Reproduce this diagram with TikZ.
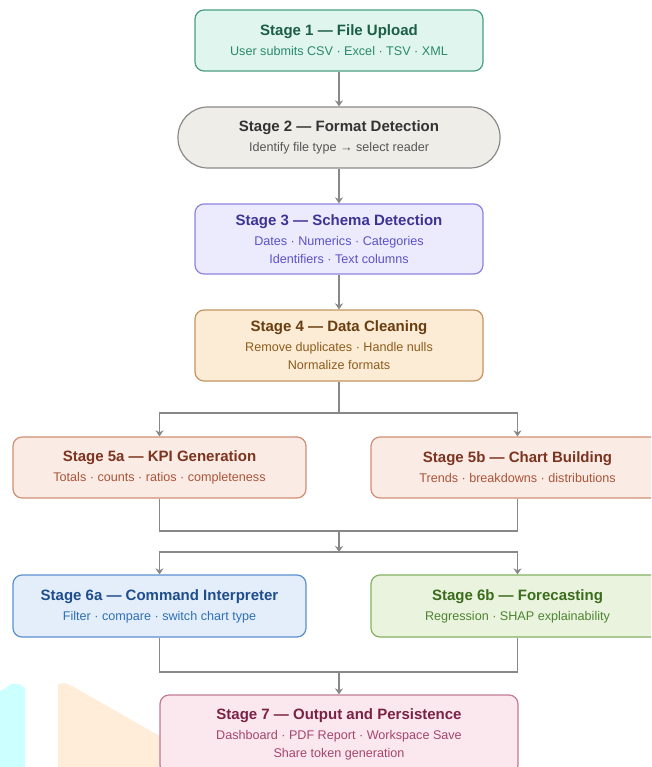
\documentclass[tikz,border=0pt]{standalone}
\usepackage{fontspec}
\setmainfont{Liberation Sans}
\usetikzlibrary{arrows.meta}

% palette
\definecolor{aFill}{HTML}{E0F5EE}\definecolor{aLine}{HTML}{4A9E80}\definecolor{aHead}{HTML}{1B5E46}\definecolor{aText}{HTML}{2A8A68}
\definecolor{bFill}{HTML}{EFEDE8}\definecolor{bLine}{HTML}{8A8A8A}\definecolor{bHead}{HTML}{333333}\definecolor{bText}{HTML}{555555}
\definecolor{cFill}{HTML}{ECEBFD}\definecolor{cLine}{HTML}{8C84E0}\definecolor{cHead}{HTML}{3C3494}\definecolor{cText}{HTML}{5B52C8}
\definecolor{dFill}{HTML}{FCECD6}\definecolor{dLine}{HTML}{C4955F}\definecolor{dHead}{HTML}{6A3D10}\definecolor{dText}{HTML}{8D5C1C}
\definecolor{eFill}{HTML}{FBEBE5}\definecolor{eLine}{HTML}{D28F76}\definecolor{eHead}{HTML}{7B3420}\definecolor{eText}{HTML}{A9553A}
\definecolor{fFill}{HTML}{E4EEFA}\definecolor{fLine}{HTML}{5B8FCF}\definecolor{fHead}{HTML}{1E4D8C}\definecolor{fText}{HTML}{2F6FB5}
\definecolor{gFill}{HTML}{E9F3DE}\definecolor{gLine}{HTML}{83B262}\definecolor{gHead}{HTML}{3B6B1C}\definecolor{gText}{HTML}{4F8432}
\definecolor{hFill}{HTML}{FBE8EF}\definecolor{hLine}{HTML}{C27A93}\definecolor{hHead}{HTML}{7B2243}\definecolor{hText}{HTML}{A4466A}
\definecolor{wire}{HTML}{888888}
\definecolor{tintCyan}{HTML}{CCFFFF}
\definecolor{tintPeach}{HTML}{FFECD9}

\newcommand{\stagehead}[2]{{\fontsize{15}{18}\selectfont\bfseries\color{#1}#2}\\[2pt]}

\tikzset{
  stagebox/.style={draw, rounded corners=9pt, line width=1.2pt, align=center,
    inner sep=0pt, font=\fontsize{12.6}{18}\selectfont},
  sa/.style={stagebox, fill=aFill, draw=aLine, text=aText},
  sb/.style={stagebox, fill=bFill, draw=bLine, text=bText, rounded corners=30pt},
  sc/.style={stagebox, fill=cFill, draw=cLine, text=cText},
  sd/.style={stagebox, fill=dFill, draw=dLine, text=dText},
  se/.style={stagebox, fill=eFill, draw=eLine, text=eText},
  sf/.style={stagebox, fill=fFill, draw=fLine, text=fText},
  sg/.style={stagebox, fill=gFill, draw=gLine, text=gText},
  sh/.style={stagebox, fill=hFill, draw=hLine, text=hText},
  wireline/.style={draw=wire, line width=1.3pt},
  arr/.style={wireline, -{Stealth[length=6pt,width=8pt]}},
}

\begin{document}
\begin{tikzpicture}[x=1pt,y=-1pt]
\useasboundingbox (0,0) rectangle (651,767);
\clip (0,0) rectangle (651,767);
\fill[white] (0,0) rectangle (651,767);

% pale background tints in the lower left corner
\fill[tintCyan] (0,767) -- (0,691) -- (4,689) -- (11,684) -- (19,684) -- (25,688) -- (25,767) -- cycle;
\fill[tintPeach] (58,767) -- (58,684) -- (65,683) -- (72,686) -- (170,742) -- (170,767) -- cycle;

% stages
\node[sa, minimum width=288pt, minimum height=61pt] (s1) at (339,40.5)
  {\stagehead{aHead}{Stage 1 — File Upload}User submits CSV · Excel · TSV · XML};
\node[sb, minimum width=322pt, minimum height=61pt] (s2) at (339,137.5)
  {\stagehead{bHead}{Stage 2 — Format Detection}Identify file type → select reader};
\node[sc, minimum width=288pt, minimum height=70pt] (s3) at (339,239)
  {\stagehead{cHead}{Stage 3 — Schema Detection}Dates · Numerics · Categories\\Identifiers · Text columns};
\node[sd, minimum width=288pt, minimum height=71pt] (s4) at (339,345.5)
  {\stagehead{dHead}{Stage 4 — Data Cleaning}Remove duplicates · Handle nulls\\Normalize formats};
\node[se, minimum width=293pt, minimum height=61pt] (s5a) at (159.5,467.5)
  {\stagehead{eHead}{Stage 5a — KPI Generation}Totals · counts · ratios · completeness};
\node[se, minimum width=293pt, minimum height=61pt] (s5b) at (517.5,467.5)
  {\stagehead{eHead}{Stage 5b — Chart Building}Trends · breakdowns · distributions};
\node[sf, minimum width=293pt, minimum height=62pt] (s6a) at (159.5,606)
  {\stagehead{fHead}{Stage 6a — Command Interpreter}Filter · compare · switch chart type};
\node[sg, minimum width=293pt, minimum height=62pt] (s6b) at (517.5,606)
  {\stagehead{gHead}{Stage 6b — Forecasting}Regression · SHAP explainability};
\node[sh, minimum width=358pt, minimum height=79pt] (s7) at (339,734.5)
  {\stagehead{hHead}{Stage 7 — Output and Persistence}Dashboard · PDF Report · Workspace Save\\Share token generation};

% junction points
\coordinate (j1) at (339,413);
\coordinate (j2) at (339,531);
\coordinate (j3) at (339,552);
\coordinate (j4) at (339,672);

% connectors
\draw[arr] (s1.south) -- (s2.north);
\draw[arr] (s2.south) -- (s3.north);
\draw[arr] (s3.south) -- (s4.north);
\draw[wireline] (s4.south) -- (j1);
\draw[arr] (j1) -| (s5a.north);
\draw[arr] (j1) -| (s5b.north);
\draw[wireline] (s5a.south) |- (j2);
\draw[wireline] (s5b.south) |- (j2);
\draw[arr] (j2) -- (j3);
\draw[arr] (j3) -| (s6a.north);
\draw[arr] (j3) -| (s6b.north);
\draw[wireline] (s6a.south) |- (j4);
\draw[wireline] (s6b.south) |- (j4);
\draw[arr] (j4) -- (s7.north);
\end{tikzpicture}
\end{document}
